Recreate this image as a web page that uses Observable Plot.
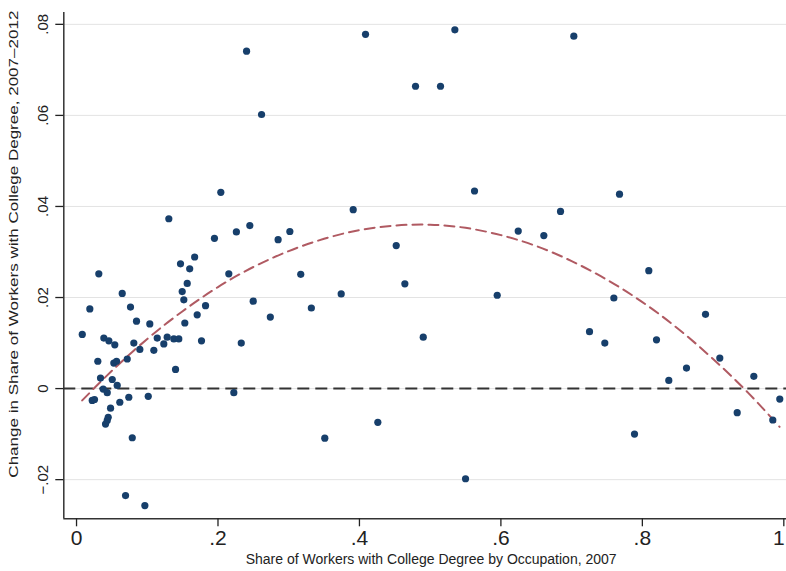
<!DOCTYPE html>
<html><head><meta charset="utf-8">
<script src="https://cdn.jsdelivr.net/npm/d3@7"></script>
<script src="https://cdn.jsdelivr.net/npm/@observablehq/plot@0.6"></script>
<style>body{margin:0;background:#fff}</style>
</head><body><div id="chart"></div>
<script>
// Share of workers with college degree by occupation, 2007 (x)
const shareCollege2007 = [
  0.204,0.1305,0.0315,0.195,0.226,0.245,0.285,0.3016,0.317,0.332,0.167,0.147,0.160,0.1565,0.1494,0.1517,
  0.2153,0.2498,0.274,0.1824,0.1706,0.1531,0.1767,0.2329,0.140,0.2224,0.0646,0.0188,0.0081,0.0763,0.0848,0.1036,
  0.0386,0.0457,0.0541,0.081,0.0895,0.1093,0.1141,0.1234,0.1282,0.1376,0.1446,0.0301,0.0527,0.0566,0.0717,0.0339,
  0.0505,0.0377,0.0434,0.0575,0.0222,0.0254,0.0612,0.0739,0.1014,0.0481,0.0448,0.0434,0.041,0.0788,0.0693,0.0966,
  0.2404,0.2616,0.4086,0.5349,0.4793,0.5146,0.5627,0.3912,0.6245,0.6607,0.452,0.4642,0.3742,0.5948,0.4902,0.426,0.351,0.550,
  0.7031,0.7677,0.6843,0.8091,0.7597,0.8893,0.7253,0.7469,0.820,0.9095,0.8624,0.8374,0.9576,0.9943,0.9341,0.9844,0.7889
];
// Change in share of workers with college degree, 2007-2012 (y)
const changeShare = [
  0.0431,0.0373,0.0252,0.0330,0.0344,0.0358,0.0327,0.0345,0.0251,0.0177,0.0289,0.0274,0.0263,0.0231,0.0213,0.0195,
  0.0252,0.0192,0.0157,0.0182,0.0162,0.0144,0.0105,0.0100,0.0042,-0.0009,0.0209,0.0175,0.0119,0.0179,0.0148,0.0142,
  0.0111,0.0105,0.0096,0.0100,0.0086,0.0084,0.0111,0.0098,0.0113,0.0109,0.0109,0.0060,0.0056,0.0060,0.0065,0.0023,
  0.0020,-0.0001,-0.0009,0.0007,-0.0026,-0.0024,-0.0030,-0.0019,-0.0017,-0.0043,-0.0063,-0.0070,-0.0078,-0.0108,-0.0235,-0.0257,
  0.0741,0.0602,0.0778,0.0788,0.0664,0.0664,0.0434,0.0393,0.0346,0.0336,0.0314,0.0230,0.0208,0.0205,0.0113,-0.0074,-0.0109,-0.0198,
  0.0774,0.0427,0.0389,0.0259,0.0199,0.0163,0.0125,0.0100,0.0107,0.0067,0.0045,0.0018,0.0027,-0.0023,-0.0053,-0.0069,-0.0100
];
// Fitted (quadratic) curve
const fitX = [0.008,0.05,0.1,0.15,0.2,0.25,0.3,0.35,0.4,0.45,0.5,0.55,0.6,0.65,0.7,0.75,0.8,0.85,0.9,0.95,0.994];
const fitY = [-0.0026,0.0039,0.0109,0.0170,0.0223,0.0267,0.0302,0.0329,0.0348,0.0358,0.0360,0.0353,0.0337,0.0313,0.0280,0.0239,0.0190,0.0132,0.0065,-0.0010,-0.0084];

const xTicks = [0,0.2,0.4,0.6,0.8,1];
const xTickLabels = ["0",".2",".4",".6",".8","1"];
const yTicks = [-0.02,0,0.02,0.04,0.06,0.08];
const yTickLabels = ["\u2212.02","0",".02",".04",".06",".08"];
const xTitle = "Share of Workers with College Degree by Occupation, 2007";
const yTitle = "Change in Share of Workers with College Degree, 2007\u20132012";

const points = shareCollege2007.map((x, i) => ({x, y: changeShare[i]}));
const fit = fitX.map((x, i) => ({x, y: fitY[i]}));

const xDomain = [-0.018, 1.0038];
const yDomain = [-0.0286, 0.0826];
const lookup = (ticks, labels) => d => labels[ticks.findIndex(t => Math.abs(t - d) < 1e-9)];

const chart = Plot.plot({
  width: 786,
  height: 571,
  marginLeft: 63.3,
  marginRight: 0,
  marginTop: 12,
  marginBottom: 52.7,
  style: {fontFamily: "'Liberation Sans', Arial, sans-serif", color: "#222", background: "#fff"},
  x: {domain: xDomain},
  y: {domain: yDomain},
  marks: [
    Plot.gridY(yTicks, {stroke: "#e3e3e3", strokeOpacity: 1, strokeWidth: 1}),
    Plot.ruleY([0], {stroke: "#333", strokeWidth: 2, strokeDasharray: "12,6"}),
    Plot.line(fit, {x: "x", y: "y", curve: "natural", stroke: "#b05a62", strokeWidth: 2, strokeDasharray: "10,6"}),
    Plot.dot(points, {x: "x", y: "y", r: 3.6, fill: "#173f6b", stroke: "none"}),
    Plot.ruleX([xDomain[0]], {stroke: "#333", strokeWidth: 1.5}),
    Plot.ruleY([yDomain[0]], {stroke: "#333", strokeWidth: 1.5}),
    Plot.axisX(xTicks, {tickSize: 8, tickPadding: 3, strokeWidth: 1.3, tickFormat: lookup(xTicks, xTickLabels), fontSize: 21,
      label: xTitle, labelAnchor: "center", labelOffset: 45, labelArrow: "none"}),
    Plot.axisY(yTicks, {tickSize: 8, tickRotate: -90, tickPadding: 8, strokeWidth: 1.3, tickFormat: lookup(yTicks, yTickLabels), fontSize: 15,
      label: yTitle, labelAnchor: "center", labelOffset: 55, labelArrow: "none"})
  ]
});
document.getElementById("chart").appendChild(chart);

const svg = d3.select(chart);
svg.selectAll('g[aria-label="x-axis label"] text').attr("font-size", 14).attr("dx", 6);
svg.selectAll('g[aria-label="x-axis label"]').attr("font-size", 14);
svg.selectAll('g[aria-label="y-axis label"]').attr("font-size", 13);
svg.selectAll('g[aria-label="y-axis label"] text').attr("font-size", 13).attr("dx", 21.5)
  .attr("textLength", 467).attr("lengthAdjust", "spacingAndGlyphs");
// keep the last x tick label ("1") inside the picture's right edge
svg.selectAll('g[aria-label="x-axis tick label"] text')
  .filter(function() { return this.textContent === xTickLabels[xTickLabels.length - 1]; })
  .attr("text-anchor", "end").attr("dx", 1);
</script>
</body></html>
